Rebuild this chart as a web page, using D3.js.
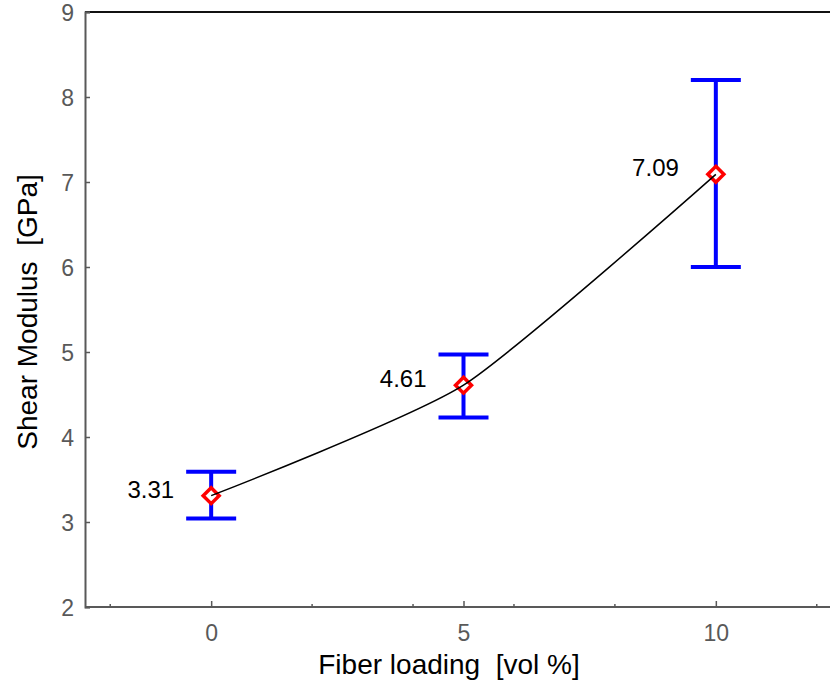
<!DOCTYPE html>
<html>
<head>
	<style>
		body { margin: 0; background: white; }
		text { font-family: "Liberation Sans", Arial, sans-serif; }
	</style>
	<script src="https://d3js.org/d3.v7.min.js"></script>
</head>
<body>
	<svg id="chart" width="830" height="685"></svg>
<script>
// values
var loading = [0, 5, 10];
var modulus = [3.31, 4.61, 7.09];
var errLow = [3.04, 4.23, 6.00];
var errHigh = [3.59, 4.97, 8.20];
var pointLabels = ["3.31", "4.61", "7.09"];

var xMajorTicks = [0, 5, 10];
var xMinorTicks = [-2, 2, 4, 6, 8, 12];
var yTicks = [2, 3, 4, 5, 6, 7, 8, 9];

var svg = d3.select("svg#chart");

let x = d3.scaleLinear().domain([-2.5, 12.5]).range([85, 842]);
let y = d3.scaleLinear().domain([2, 9]).range([607, 12]);

let axisColor = "#595959";

// top border
svg.append("line")
	.attr("x1", x(-2.5)).attr("x2", 830)
	.attr("y1", y(9)).attr("y2", y(9))
	.style("stroke", "#111").style("stroke-width", 2);

// left axis
let yAxis = svg.append("g")
	.attr("transform", "translate(" + x(-2.5) + ",0)")
	.call(d3.axisLeft(y).tickValues(yTicks).tickSize(-5).tickPadding(11).tickFormat(d3.format("d")));
yAxis.select(".domain").style("stroke", axisColor).style("stroke-width", 2);
yAxis.selectAll(".tick line").style("stroke", axisColor).style("stroke-width", 1.5);
yAxis.selectAll(".tick text")
	.style("font-size", "23px").style("fill", axisColor)
	.attr("dy", "0.36em");

// bottom axis
let xAxis = svg.append("g")
	.attr("transform", "translate(0," + y(2) + ")")
	.call(d3.axisBottom(x).tickValues(xMajorTicks).tickSize(-6).tickPadding(18).tickSizeOuter(0));
xAxis.select(".domain").attr("d", "M" + x(-2.5) + ",0H830").style("stroke", axisColor).style("stroke-width", 2);
xAxis.selectAll(".tick line").style("stroke", axisColor).style("stroke-width", 1.5);
xAxis.selectAll(".tick text")
	.style("font-size", "23px").style("fill", axisColor);

svg.append("g").selectAll("line").data(xMinorTicks)
	.enter().append("line")
	.attr("x1", d => x(d)).attr("x2", d => x(d))
	.attr("y1", y(2)).attr("y2", y(2) - 3)
	.style("stroke", axisColor).style("stroke-width", 1.5);

// axis titles
svg.append("text")
	.attr("x", 449).attr("y", 674)
	.attr("text-anchor", "middle")
	.style("font-size", "28px")
	.style("white-space", "pre")
	.text("Fiber loading  [vol %]");

svg.append("text")
	.attr("transform", "translate(37,312) rotate(-90)")
	.attr("text-anchor", "middle")
	.style("font-size", "28px")
	.style("white-space", "pre")
	.text("Shear Modulus  [GPa]");

let points = loading.map((d, i) => ({x: d, y: modulus[i], lo: errLow[i], hi: errHigh[i], label: pointLabels[i]}));

// error bars
let bars = svg.append("g").selectAll("g").data(points).enter().append("g");
bars.append("line")
	.attr("x1", d => x(d.x)).attr("x2", d => x(d.x))
	.attr("y1", d => y(d.lo)).attr("y2", d => y(d.hi))
	.style("stroke", "#0000ff").style("stroke-width", 4);
bars.append("line")
	.attr("x1", d => x(d.x) - 25).attr("x2", d => x(d.x) + 25)
	.attr("y1", d => y(d.hi)).attr("y2", d => y(d.hi))
	.style("stroke", "#0000ff").style("stroke-width", 4);
bars.append("line")
	.attr("x1", d => x(d.x) - 25).attr("x2", d => x(d.x) + 25)
	.attr("y1", d => y(d.lo)).attr("y2", d => y(d.lo))
	.style("stroke", "#0000ff").style("stroke-width", 4);

// markers
svg.append("g").selectAll("path").data(points)
	.enter().append("path")
	.attr("transform", d => "translate(" + x(d.x) + "," + y(d.y) + ")")
	.attr("d", "M0,-8L8,0L0,8L-8,0Z")
	.style("fill", "white").style("stroke", "#ff0000").style("stroke-width", 3.5);

// smoothed connecting line
let line = d3.line()
	.x(d => x(d.x)).y(d => y(d.y))
	.curve(d3.curveCardinal.tension(0.4));
svg.append("path")
	.datum(points)
	.attr("d", line)
	.style("fill", "none").style("stroke", "black").style("stroke-width", 1.5);

// value labels
svg.append("g").selectAll("text").data(points)
	.enter().append("text")
	.attr("x", d => x(d.x) - 37)
	.attr("y", d => y(d.y) + 2)
	.attr("text-anchor", "end")
	.style("font-size", "24px")
	.text(d => d.label);
</script>
</body>
</html>
